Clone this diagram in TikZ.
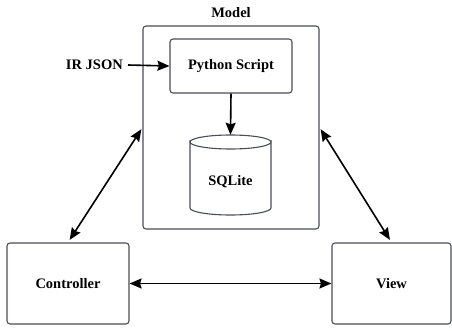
\documentclass[tikz,border=0pt]{standalone}
\usepackage{fontspec}
\setmainfont{Liberation Serif}
\usetikzlibrary{arrows.meta}
\definecolor{boxline}{HTML}{4A4D55}
\tikzset{
  box/.style={draw=boxline, line width=1.1pt, rounded corners=3pt, inner sep=0pt, font=\fontsize{14.5}{17}\selectfont\bfseries},
  lbl/.style={inner sep=0pt, font=\fontsize{14.5}{17}\selectfont\bfseries},
  arr/.style={line width=1.6pt, -{Stealth[length=12pt,width=10pt,inset=1.5pt]}},
  darr/.style={line width=1.6pt, {Stealth[length=12pt,width=10pt,inset=1.5pt]}-{Stealth[length=12pt,width=10pt,inset=1.5pt]}},
}
\begin{document}
\begin{tikzpicture}[x=1pt,y=-1pt]
\useasboundingbox (0,0) rectangle (452,331);
\node[box, minimum width=176pt, minimum height=203pt] (model) at (231,127.5) {};
\node[lbl] (modellbl) at (231,13) {Model};
\node[box, minimum width=122pt, minimum height=54pt] (py) at (231,66) {Python Script};
\node[lbl, anchor=east] (ir) at (123,65) {IR JSON};
\node[inner sep=0pt, minimum width=81pt, minimum height=80pt] (db) at (230.5,175) {};
\draw[boxline, line width=1.1pt, fill=white] (190,142) arc[start angle=180, end angle=360, x radius=40.5, y radius=-7] -- (271,208) arc[start angle=0, end angle=-180, x radius=40.5, y radius=-7] -- cycle;
\draw[boxline, line width=1.1pt] (190,142) arc[start angle=180, end angle=0, x radius=40.5, y radius=-7];
\node[lbl] (dbl) at (230.5,182) {SQLite};
\node[box, minimum width=122pt, minimum height=81pt] (ctrl) at (68,283.5) {Controller};
\node[box, minimum width=119pt, minimum height=81pt] (view) at (391.5,283.5) {View};
\draw[arr] (ir.east) ++(5,0) coordinate (irs) -- (py.west);
\draw[arr] (py.south) -- (db.north);
\draw[darr, shorten >=2pt, shorten <=3pt] (ctrl.north) -- (model.west);
\draw[darr, shorten >=2pt, shorten <=3pt] (view.north) -- (model.east);
\draw[darr] (ctrl.east) -- (view.west);
\end{tikzpicture}
\end{document}
